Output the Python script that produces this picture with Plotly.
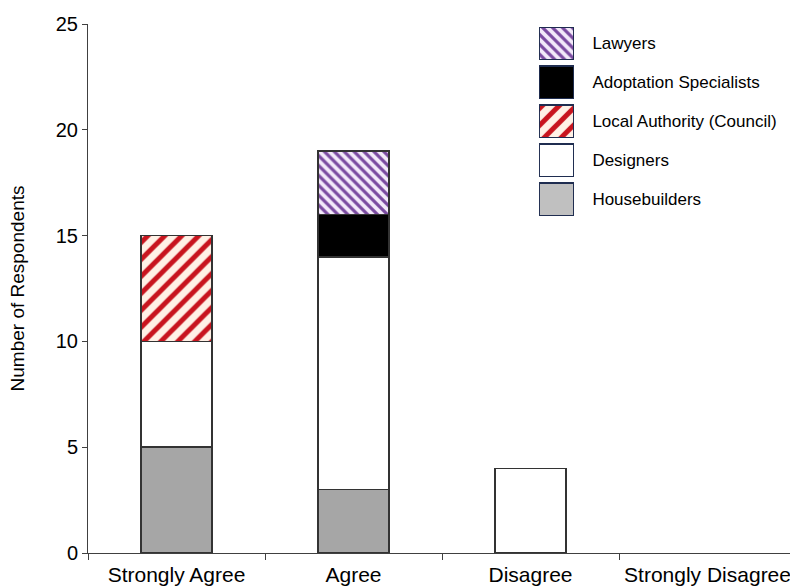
import plotly.graph_objects as go

# Survey responses per stakeholder group
categories = ["Strongly Agree", "Agree", "Disagree", "Strongly Disagree"]
housebuilders = [5, 3, 0, 0]
designers = [5, 11, 4, 0]
local_authority = [5, 0, 0, 0]
adoptation = [0, 2, 0, 0]
lawyers = [0, 3, 0, 0]

# Legend entries, top to bottom
legend_names = ["Lawyers", "Adoptation Specialists", "Local Authority (Council)",
                "Designers", "Housebuilders"]

red_stripes = dict(shape="/", fgcolor="#c8141e", bgcolor="#fff1e6",
                   size=12, solidity=0.42, fillmode="replace")
purple_stripes = dict(shape="\\", fgcolor="#7a4aa0", bgcolor="#f3eafa",
                      size=7, solidity=0.45, fillmode="replace")

series = [
    ("Housebuilders", housebuilders, dict(color="#a6a6a6")),
    ("Designers", designers, dict(color="#ffffff")),
    ("Local Authority (Council)", local_authority, dict(color="#fff1e6", pattern=red_stripes)),
    ("Adoptation Specialists", adoptation, dict(color="#000000")),
    ("Lawyers", lawyers, dict(color="#f3eafa", pattern=purple_stripes)),
]

legend_style = {
    "Housebuilders": dict(color="#c0c0c0"),
    "Designers": dict(color="#ffffff"),
    "Local Authority (Council)": dict(color="#fff1e6", pattern=red_stripes),
    "Adoptation Specialists": dict(color="#000000"),
    "Lawyers": dict(color="#f3eafa", pattern=purple_stripes),
}

fig = go.Figure()

for name, vals, mk in series:
    # empty segments are left out so no outline is drawn for them
    shown = [v if v > 0 else None for v in vals]
    fig.add_trace(go.Bar(
        x=categories, y=shown, name=name, width=0.4,
        marker=dict(**mk, line=dict(color="#333333", width=1.5)),
        showlegend=False, xaxis="x", yaxis="y",
    ))

# Swatch legend drawn as a small bar panel with names on its right side
for name in legend_names:
    fig.add_trace(go.Bar(
        x=[1], y=[name], orientation="h", name=name, width=0.83,
        marker=dict(**legend_style[name], line=dict(color="#1f2d50", width=1.5)),
        showlegend=False, xaxis="x2", yaxis="y2", hoverinfo="skip",
    ))

font = dict(family="Liberation Sans, Arial, sans-serif", color="#000000")

fig.update_layout(
    width=790, height=588,
    margin=dict(l=88, r=0, t=24, b=35),
    paper_bgcolor="white", plot_bgcolor="white",
    barmode="stack",
    font=font,
    xaxis=dict(
        type="category", categoryorder="array", categoryarray=categories,
        range=[-0.5, 3.466], domain=[0, 1],
        showline=True, linecolor="#404040", linewidth=1,
        ticks="outside", tickson="boundaries", ticklen=6, tickcolor="#404040",
        ticklabelstandoff=3,
        showgrid=False, tickfont=dict(size=21), zeroline=False,
    ),
    yaxis=dict(
        range=[0, 25], tickvals=[0, 5, 10, 15, 20, 25],
        showline=True, linecolor="#404040", linewidth=1,
        ticks="outside", ticklen=5, tickcolor="#404040",
        showgrid=False, zeroline=False, tickfont=dict(size=20),
        title=dict(text="Number of Respondents", font=dict(size=19), standoff=26),
    ),
    xaxis2=dict(
        domain=[0.6425, 0.6923], range=[0, 1], anchor="y2",
        visible=False, fixedrange=True,
    ),
    yaxis2=dict(
        domain=[0.632, 1.0], anchor="x2", side="right",
        type="category", categoryorder="array", categoryarray=legend_names[::-1],
        showline=False, showgrid=False, zeroline=False,
        ticks="outside", ticklen=14, tickcolor="rgba(0,0,0,0)",
        tickfont=dict(size=17), fixedrange=True,
    ),
)

fig.write_html("out.html")
